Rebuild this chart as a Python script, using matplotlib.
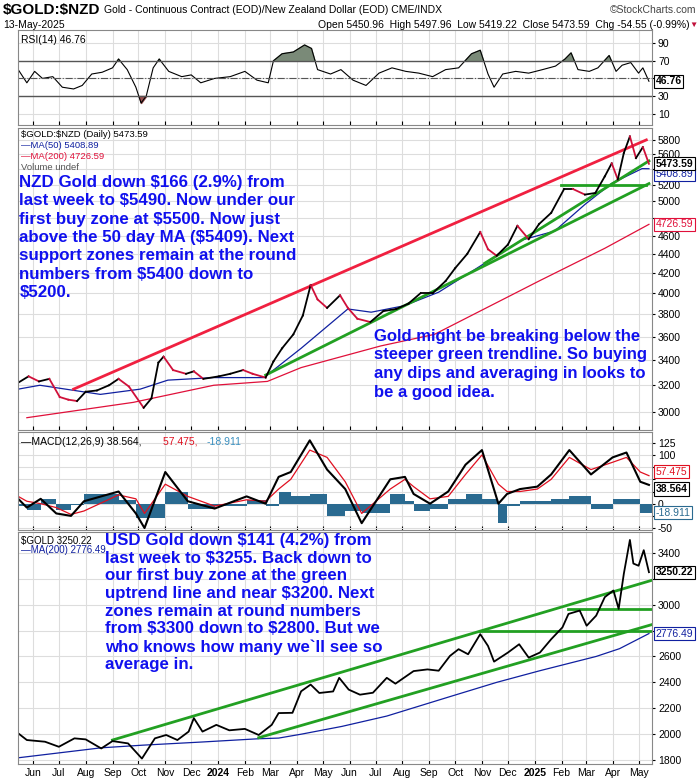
import matplotlib
matplotlib.use("Agg")
import matplotlib.pyplot as plt
import matplotlib.transforms as mtrans
import numpy as np
import pandas as pd

plt.rcParams['font.family'] = ['Liberation Sans', 'DejaVu Sans']
plt.rcParams['text.parse_math'] = False

# ---- data ----
rsi_dates = ['2023-05-15', '2023-05-25', '2023-06-03', '2023-06-12', '2023-06-24', '2023-07-05', '2023-07-18',
             '2023-07-28', '2023-08-08', '2023-08-20', '2023-09-01', '2023-09-08', '2023-09-18', '2023-09-28',
             '2023-10-04', '2023-10-10', '2023-10-18', '2023-10-25', '2023-11-05', '2023-11-20', '2023-12-01',
             '2023-12-12', '2023-12-28', '2024-01-15', '2024-02-01', '2024-02-15', '2024-02-28', '2024-03-05',
             '2024-03-15', '2024-03-28', '2024-04-10', '2024-04-18', '2024-04-25', '2024-05-10', '2024-05-22',
             '2024-06-05', '2024-06-20', '2024-07-05', '2024-07-20', '2024-08-05', '2024-08-20', '2024-09-05',
             '2024-09-20', '2024-10-05', '2024-10-20', '2024-10-30', '2024-11-08', '2024-11-15', '2024-11-25',
             '2024-12-10', '2024-12-25', '2025-01-10', '2025-01-25', '2025-02-05', '2025-02-12', '2025-02-20',
             '2025-03-05', '2025-03-15', '2025-03-28', '2025-04-05', '2025-04-12', '2025-04-22', '2025-05-01',
             '2025-05-06', '2025-05-13']
rsi_vals = [60, 45, 58, 50, 52, 40, 38, 42, 55, 57, 62, 72, 60, 40, 22, 30, 62, 72, 58, 52, 54, 45, 50, 52, 58,
            48, 45, 70, 78, 80, 88, 84, 60, 55, 60, 48, 42, 56, 62, 58, 56, 52, 60, 62, 78, 82, 55, 40, 55, 58, 56,
            60, 64, 72, 79, 60, 58, 62, 76, 58, 65, 68, 56, 62, 46.76]

nzd_dates = ['2023-05-15', '2023-05-27', '2023-06-08', '2023-06-20', '2023-07-02', '2023-07-12', '2023-07-22',
             '2023-08-01', '2023-08-14', '2023-08-28', '2023-09-08', '2023-09-20', '2023-10-07', '2023-10-16',
             '2023-10-24', '2023-10-30', '2023-11-10', '2023-11-25', '2023-12-04', '2023-12-15', '2024-01-02',
             '2024-01-15', '2024-01-30', '2024-02-10', '2024-02-25', '2024-03-05', '2024-03-15', '2024-03-28',
             '2024-04-08', '2024-04-17', '2024-04-25', '2024-05-06', '2024-05-21', '2024-05-30', '2024-06-10',
             '2024-06-25', '2024-07-10', '2024-07-25', '2024-08-08', '2024-08-22', '2024-09-05', '2024-09-20',
             '2024-10-01', '2024-10-15', '2024-10-30', '2024-11-08', '2024-11-18', '2024-12-01', '2024-12-12',
             '2024-12-25', '2025-01-06', '2025-01-20', '2025-02-04', '2025-02-14', '2025-02-28', '2025-03-12',
             '2025-03-23', '2025-03-31', '2025-04-07', '2025-04-14', '2025-04-21', '2025-04-28', '2025-05-06',
             '2025-05-13']
nzd_vals = [3220, 3270, 3230, 3250, 3110, 3090, 3080, 3150, 3160, 3200, 3250, 3190, 3030, 3100, 3380, 3430, 3320,
            3290, 3310, 3250, 3270, 3290, 3320, 3290, 3260, 3390, 3500, 3620, 3790, 4080, 3940, 3860, 3980, 3860,
            3760, 3730, 3830, 3850, 3900, 4000, 4000, 4120, 4250, 4400, 4640, 4450, 4380, 4500, 4710, 4560, 4730,
            4860, 5150, 5150, 5080, 5100, 5310, 5480, 5270, 5620, 5850, 5550, 5700, 5473.59]

nzd_ma50_dates = ['2023-05-15', '2023-06-09', '2023-08-18', '2023-10-03', '2023-11-04', '2023-12-27', '2024-02-23',
                  '2024-04-06', '2024-05-30', '2024-06-26', '2024-08-03', '2024-09-12', '2024-11-04', '2024-12-17',
                  '2025-01-24', '2025-02-28', '2025-03-31', '2025-05-05', '2025-05-13']
nzd_ma50_vals = [3170, 3200, 3130, 3170, 3240, 3260, 3260, 3500, 3850, 3820, 3880, 4010, 4300, 4550, 4650, 4960,
                 5220, 5410, 5408.89]
nzd_ma200_dates = ['2023-05-25', '2023-09-25', '2023-12-27', '2024-02-27', '2024-04-06', '2024-07-07', '2024-09-07',
                   '2025-01-06', '2025-03-23', '2025-05-13']
nzd_ma200_vals = [2958, 3070, 3200, 3230, 3340, 3520, 3620, 4120, 4460, 4726.59]

# trend lines (start, end) drawn on the NZD chart
nzd_red_line = (['2023-07-18', '2025-05-10'], [3170, 5800])
nzd_green_lines = [(['2024-02-25', '2025-05-13'], [3280, 5217]),
                   (['2024-11-04', '2025-05-13'], [4300, 5512]),
                   (['2025-01-31', '2025-05-10'], [5200, 5200])]

macd_dates = ['2023-05-15', '2023-05-25', '2023-06-10', '2023-06-28', '2023-07-15', '2023-07-30', '2023-09-08',
              '2023-09-28', '2023-10-08', '2023-11-01', '2023-11-27', '2023-12-28', '2024-02-03', '2024-02-25',
              '2024-03-11', '2024-03-25', '2024-04-16', '2024-05-06', '2024-05-27', '2024-06-15', '2024-07-18',
              '2024-08-04', '2024-08-14', '2024-09-02', '2024-09-23', '2024-10-13', '2024-11-01', '2024-11-20',
              '2024-11-30', '2024-12-15', '2025-01-04', '2025-01-20', '2025-02-10', '2025-03-07', '2025-04-01',
              '2025-04-17', '2025-05-03', '2025-05-13']
macd_vals = [10, -8, 10, -20, -25, 5, 25, -20, -50, 65, 5, -10, 15, 0, 55, 65, 130, 70, 30, -40, 50, 55, 20, 0,
             25, 80, 110, 0, 20, 30, 35, 60, 110, 60, 95, 105, 45, 38.564]
signal_vals = [15, 5, 0, -8, -22, -15, 18, 10, -20, 40, 15, -5, 8, 5, 30, 50, 110, 95, 45, -20, 30, 50, 35, 10,
               15, 60, 100, 40, 25, 25, 30, 50, 95, 70, 85, 95, 65, 57.475]

usd_dates = ['2023-05-15', '2023-05-25', '2023-06-15', '2023-07-01', '2023-07-19', '2023-08-01', '2023-08-19',
             '2023-09-01', '2023-09-19', '2023-10-05', '2023-10-20', '2023-11-02', '2023-11-15', '2023-11-28',
             '2023-12-04', '2023-12-14', '2023-12-30', '2024-01-14', '2024-02-01', '2024-02-17', '2024-03-03',
             '2024-03-11', '2024-03-27', '2024-04-06', '2024-04-17', '2024-04-27', '2024-05-13', '2024-05-20',
             '2024-05-31', '2024-06-13', '2024-06-28', '2024-07-14', '2024-07-24', '2024-08-14', '2024-08-30',
             '2024-09-12', '2024-09-25', '2024-10-05', '2024-10-16', '2024-10-30', '2024-11-08', '2024-11-15',
             '2024-12-01', '2024-12-14', '2024-12-25', '2025-01-07', '2025-01-20', '2025-02-02', '2025-02-09',
             '2025-02-22', '2025-03-02', '2025-03-13', '2025-03-23', '2025-04-02', '2025-04-08', '2025-04-14',
             '2025-04-21', '2025-04-25', '2025-05-01', '2025-05-07', '2025-05-13']
usd_vals = [2007, 1955, 1942, 1903, 1968, 1960, 1890, 1947, 1929, 1812, 1968, 1994, 1955, 2020, 2124, 2020, 2072,
            2030, 2041, 1994, 2072, 2163, 2165, 2331, 2383, 2318, 2330, 2435, 2344, 2305, 2320, 2435, 2390, 2487,
            2500, 2490, 2604, 2656, 2617, 2772, 2681, 2560, 2630, 2694, 2591, 2630, 2733, 2824, 2928, 2954, 2837,
            2915, 3058, 3109, 2967, 3239, 3499, 3317, 3300, 3420, 3250.22]
usd_ma200_dates = ['2023-05-15', '2023-08-19', '2023-10-05', '2023-12-14', '2024-02-17', '2024-03-11', '2024-04-06',
                   '2024-05-23', '2024-07-14', '2024-09-25', '2024-11-18', '2025-01-07', '2025-03-13', '2025-04-09',
                   '2025-05-13']
usd_ma200_vals = [1818, 1895, 1915, 1940, 1965, 1970, 2000, 2060, 2140, 2290, 2400, 2490, 2600, 2660, 2776.49]
usd_green_lines = [(['2023-09-01', '2025-05-16'], [1955, 3187]),
                   (['2024-02-17', '2025-05-16'], [1973, 2845]),
                   (['2024-10-30', '2025-05-16'], [2800, 2800]),
                   (['2025-02-09', '2025-05-16'], [2967, 2967])]

month_labels = ['Jun', 'Jul', 'Aug', 'Sep', 'Oct', 'Nov', 'Dec', '2024', 'Feb', 'Mar', 'Apr', 'May', 'Jun', 'Jul',
                'Aug', 'Sep', 'Oct', 'Nov', 'Dec', '2025', 'Feb', 'Mar', 'Apr', 'May']

nzd_text = ("NZD Gold down $166 (2.9%) from\nlast week to $5490. Now under our\nfirst buy zone at $5500. Now just\n"
            "above the 50 day MA ($5409). Next\nsupport zones remain at the round\nnumbers from $5400 down to\n$5200.")
nzd_text2 = ("Gold might be breaking below the\nsteeper green trendline. So buying\n"
             "any dips and averaging in looks to\nbe a good idea.")
usd_text = ("USD Gold down $141 (4.2%) from\nlast week to $3255. Back down to\nour first buy zone at the green\n"
            "uptrend line and near $3200. Next\nzones remain at round numbers\nfrom $3300 down to $2800. But we\n"
            "who knows how many we`ll see so\naverage in.")

D = pd.to_datetime
xmin, xmax = D('2023-05-15'), D('2025-05-17')
month_starts = pd.date_range('2023-06-01', '2025-05-01', freq='MS')
BLUE = '#1010ee'
GREEN = '#22a022'


def style(ax, yticks, ylim, log=False):
    if log:
        ax.set_yscale('log')
    ax.set_ylim(*ylim)
    ax.set_xlim(xmin, xmax)
    ax.yaxis.tick_right()
    ax.set_yticks(yticks)
    ax.set_yticklabels([str(t) for t in yticks])
    ax.yaxis.set_minor_locator(matplotlib.ticker.NullLocator())
    ax.tick_params(axis='y', labelsize=7.5, length=2, pad=2)
    ax.set_xticks(month_starts)
    ax.set_xticklabels([])
    ax.tick_params(axis='x', length=3, direction='in')
    ax.grid(True, color='#dddddd', lw=0.8)
    ax.set_axisbelow(True)
    for s in ax.spines.values():
        s.set_color('#888888')


def value_box(ax, y, text, color='black', dy=0):
    tr = mtrans.blended_transform_factory(ax.transAxes, ax.transData)
    ax.annotate(text, xy=(1.005, y), xycoords=tr, xytext=(0, dy), textcoords='offset points',
                fontsize=7.5, va='center', ha='left', color=color,
                fontweight='bold' if color == 'black' else 'normal',
                bbox=dict(boxstyle='square,pad=0.15', fc='white', ec=color, lw=0.8), annotation_clip=False)


def colored_line(ax, dates, vals):
    d = D(dates)
    for i in range(1, len(vals)):
        c = 'black' if vals[i] >= vals[i - 1] else '#d0103a'
        ax.plot(d[i - 1:i + 1], vals[i - 1:i + 1], color=c, lw=1.3)


fig = plt.figure(figsize=(7, 7.8), dpi=100)
L, W = 0.026, 0.906
ax_rsi = fig.add_axes([L, 0.8397, W, 0.1218])
ax_nzd = fig.add_axes([L, 0.4487, W, 0.3872])
ax_macd = fig.add_axes([L, 0.3205, W, 0.1256])
ax_usd = fig.add_axes([L, 0.0205, W, 0.2974])

# header
fig.text(0.004, 0.987, '$GOLD:$NZD', fontsize=11, fontweight='bold', va='center')
fig.text(0.148, 0.987, 'Gold - Continuous Contract (EOD)/New Zealand Dollar (EOD) CME/INDX', fontsize=7.5,
         va='center')
fig.text(0.995, 0.987, '\u00a9StockCharts.com', fontsize=7.5, va='center', ha='right', color='#444444')
fig.text(0.004, 0.968, '13-May-2025', fontsize=7.5, va='center')
fig.text(0.985, 0.968, 'Open 5450.96  High 5497.96  Low 5419.22  Close 5473.59  Chg -54.55 (-0.99%)', fontsize=7.5,
         va='center', ha='right')
fig.text(0.996, 0.968, '\u25bc', fontsize=6, va='center', ha='right', color='#c0103a')

# RSI
rd = D(rsi_dates)
rv = np.array(rsi_vals)
style(ax_rsi, [10, 30, 50, 70, 90], (-3, 105))
ax_rsi.set_yticklabels(['10', '30', '', '70', '90'])
ax_rsi.plot(rd, rv, color='black', lw=0.8)
ax_rsi.fill_between(rd, 70, rv, where=rv > 70, interpolate=True, color='#7a8a78')
ax_rsi.fill_between(rd, 30, rv, where=rv < 30, interpolate=True, color='#9a5050')
ax_rsi.axhline(70, color='#555555', lw=1)
ax_rsi.axhline(30, color='#555555', lw=1)
ax_rsi.axhline(50, color='#555555', lw=0.8, ls='-.')
ax_rsi.text(0.004, 0.95, 'RSI(14) 46.76', transform=ax_rsi.transAxes, fontsize=7.5, va='top')
value_box(ax_rsi, 46.76, '46.76')

# NZD price
style(ax_nzd, [3000, 3200, 3400, 3600, 3800, 4000, 4200, 4400, 4600, 4800, 5000, 5200, 5400, 5600, 5800],
      (2871, 5970), log=True)
ax_nzd.set_yticklabels(['3000', '3200', '3400', '3600', '3800', '4000', '4200', '4400', '4600', '', '5000',
                        '5200', '', '5600', '5800'])
ax_nzd.plot(D(nzd_ma200_dates), nzd_ma200_vals, color='#e0103a', lw=0.9)
ax_nzd.plot(D(nzd_ma50_dates), nzd_ma50_vals, color='#1020a0', lw=0.9)
ax_nzd.plot(D(nzd_red_line[0]), nzd_red_line[1], color='#f02040', lw=2)
for xs, ys in nzd_green_lines:
    ax_nzd.plot(D(xs), ys, color=GREEN, lw=2)
colored_line(ax_nzd, nzd_dates, nzd_vals)
ax_nzd.text(0.004, 0.995, '$GOLD:$NZD (Daily) 5473.59', transform=ax_nzd.transAxes, fontsize=6.8, va='top')
ax_nzd.text(0.004, 0.958, '\u2014MA(50) 5408.89', transform=ax_nzd.transAxes, fontsize=6.8, va='top', color='#1020a0')
ax_nzd.text(0.004, 0.921, '\u2014MA(200) 4726.59', transform=ax_nzd.transAxes, fontsize=6.8, va='top', color='#e0103a')
ax_nzd.text(0.004, 0.884, 'Volume undef', transform=ax_nzd.transAxes, fontsize=6.8, va='top', color='#555555')
ax_nzd.text(0.002, 0.845, nzd_text, transform=ax_nzd.transAxes, fontsize=12.2, fontweight='bold', va='top',
            color=BLUE, linespacing=1.28)
ax_nzd.text(0.561, 0.335, nzd_text2, transform=ax_nzd.transAxes, fontsize=12, fontweight='bold', va='top',
            color=BLUE, linespacing=1.3)
value_box(ax_nzd, 5409, '5408.89', color='#1020a0', dy=-4)
value_box(ax_nzd, 5473.59, '5473.59')
value_box(ax_nzd, 4726.59, '4726.59', color='#e0103a')

# MACD
md = D(macd_dates)
mv = np.array(macd_vals)
sv = np.array(signal_vals)
style(ax_macd, [-50, -25, 0, 25, 50, 75, 100, 125], (-54, 147))
ax_macd.set_yticklabels(['-50', '', '0', '', '', '', '100', '125'])
widths = np.diff(md).astype('timedelta64[D]').astype(float)
widths = np.append(widths, 8)
ax_macd.bar(md, mv - sv, width=widths, align='edge', color='#2a6a90')
ax_macd.plot(md, sv, color='#e01020', lw=0.9)
ax_macd.plot(md, mv, color='black', lw=1.5)
ax_macd.text(0.004, 0.95, '\u2014MACD(12,26,9) 38.564, ', transform=ax_macd.transAxes, fontsize=7.5, va='top')
ax_macd.text(0.228, 0.95, '57.475, ', transform=ax_macd.transAxes, fontsize=7.5, va='top', color='#e01020')
ax_macd.text(0.297, 0.95, '-18.911', transform=ax_macd.transAxes, fontsize=7.5, va='top', color='#3a90c0')
value_box(ax_macd, 57.475, '57.475', color='#e01020', dy=3)
value_box(ax_macd, 38.564, '38.564', dy=-3)
value_box(ax_macd, -18.911, '-18.911', color='#2a6a90')

# USD gold
style(ax_usd, [1800, 2000, 2200, 2400, 2600, 2800, 3000, 3200, 3400], (1770, 3560))
ax_usd.set_yticklabels(['1800', '2000', '2200', '2400', '2600', '', '3000', '', '3400'])
ax_usd.plot(D(usd_ma200_dates), usd_ma200_vals, color='#1020a0', lw=0.9)
for xs, ys in usd_green_lines:
    ax_usd.plot(D(xs), ys, color=GREEN, lw=2)
ax_usd.plot(D(usd_dates), usd_vals, color='black', lw=1.3)
ax_usd.text(0.004, 0.985, '$GOLD 3250.22', transform=ax_usd.transAxes, fontsize=7, va='top')
ax_usd.text(0.004, 0.945, '\u2014MA(200) 2776.49', transform=ax_usd.transAxes, fontsize=7, va='top',
            color='#1020a0')
ax_usd.text(0.137, 0.995, usd_text, transform=ax_usd.transAxes, fontsize=12.2, fontweight='bold', va='top',
            color=BLUE, linespacing=1.22)
value_box(ax_usd, 3250.22, '3250.22')
value_box(ax_usd, 2776.49, '2776.49', color='#1020a0')

ax_usd.set_xticks(month_starts)
ax_usd.set_xticklabels(month_labels, fontsize=7.5)
for lab in ax_usd.get_xticklabels():
    if lab.get_text() in ('2024', '2025'):
        lab.set_fontweight('bold')
ax_usd.tick_params(axis='x', pad=3, length=3)

fig.savefig('out.png', dpi=100)
